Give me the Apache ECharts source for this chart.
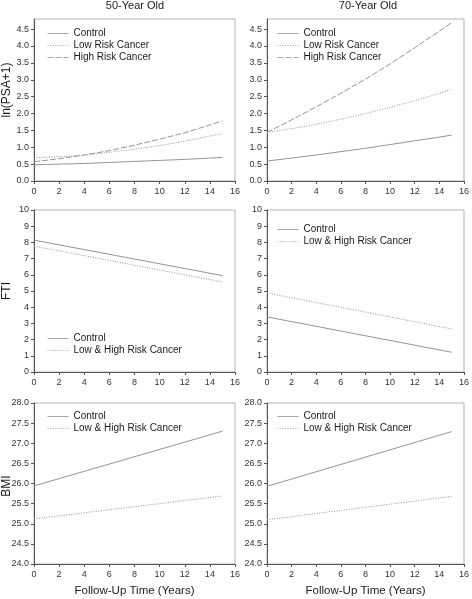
<!DOCTYPE html>
<html>
<head>
<meta charset="utf-8">
<script src="https://cdn.jsdelivr.net/npm/echarts@6/dist/echarts.min.js"></script>
<style>
html,body{margin:0;padding:0;background:#fff;}
#c{width:472px;height:599px;}
</style>
</head>
<body>
<div id="c"></div>
<script>
// ---- data ----
var yearsCurve = [0, 2, 4, 6, 8, 10, 12, 14, 15];
var yearsLine = [0, 15];

// ln(PSA+1), 50-year old
var psa50Control = [0.48, 0.50, 0.52, 0.55, 0.58, 0.61, 0.64, 0.68, 0.70];
var psa50Low     = [0.69, 0.72, 0.77, 0.85, 0.94, 1.05, 1.18, 1.33, 1.41];
var psa50High    = [0.57, 0.66, 0.77, 0.90, 1.06, 1.24, 1.43, 1.66, 1.78];
// ln(PSA+1), 70-year old
var psa70Control = [0.59, 0.68, 0.77, 0.87, 0.97, 1.08, 1.19, 1.30, 1.36];
var psa70Low     = [1.44, 1.55, 1.68, 1.83, 2.00, 2.18, 2.38, 2.60, 2.72];
var psa70High    = [1.44, 1.81, 2.20, 2.60, 3.02, 3.47, 3.95, 4.44, 4.69];
// FTI
var fti50Control = [8.14, 5.95];
var fti50Cancer  = [7.77, 5.56];
var fti70Control = [3.40, 1.22];
var fti70Cancer  = [4.88, 2.66];
// BMI
var bmi50Control = [25.94, 27.30];
var bmi50Cancer  = [25.12, 25.69];
var bmi70Control = [25.93, 27.29];
var bmi70Cancer  = [25.10, 25.68];

var xTicks = [0, 2, 4, 6, 8, 10, 12, 14, 16];
var psaTicks = [0, 0.5, 1, 1.5, 2, 2.5, 3, 3.5, 4, 4.5];
var ftiTicks = [0, 1, 2, 3, 4, 5, 6, 7, 8, 9, 10];
var bmiTicks = [24, 24.5, 25, 25.5, 26, 26.5, 27, 27.5, 28];

var titles = ['50-Year Old', '70-Year Old'];
var yNames = ['ln(PSA+1)', 'FTI', 'BMI'];
var xName = 'Follow-Up Time (Years)';

// ---- layout ----
var FONT = 'Liberation Sans, Arial, sans-serif';
var LINE = '#959595';
var cols = [{left: 34, width: 201}, {left: 267, width: 200}];
var rows = [{top: 19, height: 162}, {top: 210, height: 162}, {top: 403, height: 161}];

function pairs(xs, ys) { return xs.map(function (x, i) { return [x, ys[i]]; }); }

var grids = [], xAxes = [], yAxes = [], series = [], legends = [];
var yCfg = [
  {min: 0, max: 4.8, ticks: psaTicks, fmt: function (v) { return v.toFixed(1); }},
  {min: 0, max: 10, ticks: ftiTicks, fmt: function (v) { return String(v); }},
  {min: 24, max: 28, ticks: bmiTicks, fmt: function (v) { return v.toFixed(1); }}
];

var idx = 0;
for (var r = 0; r < 3; r++) {
  for (var c = 0; c < 2; c++) {
    grids.push({
      left: cols[c].left, width: cols[c].width, top: rows[r].top, height: rows[r].height,
      show: true, borderColor: '#b4b4b4', borderWidth: 1, backgroundColor: 'transparent', containLabel: false
    });
    xAxes.push({
      type: 'value', gridIndex: idx, min: 0, max: 16, interval: 2,
      name: r === 2 ? xName : '', nameLocation: 'middle', nameGap: 21,
      nameTextStyle: {fontFamily: FONT, fontSize: 11.5, color: '#1a1a1a'},
      axisLine: {show: true, lineStyle: {color: '#555', width: 1}},
      axisTick: {show: true, length: 3, inside: false, customValues: xTicks, lineStyle: {color: '#555'}},
      axisLabel: {fontFamily: FONT, fontSize: 9, color: '#333', margin: 6, customValues: xTicks},
      splitLine: {show: false}
    });
    var yc = yCfg[r];
    yAxes.push({
      type: 'value', gridIndex: idx, min: yc.min, max: yc.max,
      axisLine: {show: true, lineStyle: {color: '#555', width: 1}},
      axisTick: {show: true, length: 3, inside: false, customValues: yc.ticks, lineStyle: {color: '#555'}},
      axisLabel: {fontFamily: FONT, fontSize: 9, color: '#333', margin: 5, customValues: yc.ticks, formatter: yc.fmt},
      splitLine: {show: false}
    });
    idx++;
  }
}

function addLine(gi, name, data, type) {
  series.push({
    type: 'line', name: name, xAxisIndex: gi, yAxisIndex: gi, data: data,
    showSymbol: false, symbol: 'none', smooth: false, silent: true, animation: false,
    lineStyle: {color: LINE, width: 1, type: type}, itemStyle: {color: LINE}
  });
}
var dashType = [6, 2];
var dotType = [1, 1.5];

addLine(0, 'Control', pairs(yearsCurve, psa50Control), 'solid');
addLine(0, 'Low Risk Cancer', pairs(yearsCurve, psa50Low), dotType);
addLine(0, 'High Risk Cancer', pairs(yearsCurve, psa50High), dashType);
addLine(1, 'Control', pairs(yearsCurve, psa70Control), 'solid');
addLine(1, 'Low Risk Cancer', pairs(yearsCurve, psa70Low), dotType);
addLine(1, 'High Risk Cancer', pairs(yearsCurve, psa70High), dashType);
addLine(2, 'Control', pairs(yearsLine, fti50Control), 'solid');
addLine(2, 'Low & High Risk Cancer', pairs(yearsLine, fti50Cancer), dotType);
addLine(3, 'Control', pairs(yearsLine, fti70Control), 'solid');
addLine(3, 'Low & High Risk Cancer', pairs(yearsLine, fti70Cancer), dotType);
addLine(4, 'Control', pairs(yearsLine, bmi50Control), 'solid');
addLine(4, 'Low & High Risk Cancer', pairs(yearsLine, bmi50Cancer), dotType);
addLine(5, 'Control', pairs(yearsLine, bmi70Control), 'solid');
addLine(5, 'Low & High Risk Cancer', pairs(yearsLine, bmi70Cancer), dotType);

function addLegend(left, top, names) {
  legends.push({
    left: left, top: top, orient: 'vertical', itemWidth: 21, itemHeight: 10, itemGap: 2,
    selectedMode: false, data: names, padding: 0,
    itemStyle: {opacity: 0, borderWidth: 0},
    lineStyle: {width: 1, color: '#a8a8a8'},
    textStyle: {fontFamily: FONT, fontSize: 10, color: '#1a1a1a', padding: [0, 0, 0, 0]}
  });
}
var psaNames = ['Control', 'Low Risk Cancer', 'High Risk Cancer'];
var twoNames = ['Control', 'Low & High Risk Cancer'];
addLegend(47, 28.5, psaNames);
addLegend(277, 28.5, psaNames);
addLegend(47, 333.5, twoNames);
addLegend(277, 224.5, twoNames);
addLegend(47, 411.5, twoNames);
addLegend(277, 411.5, twoNames);

var graphics = [];
var yNameY = [90, 291, 486];
for (var k = 0; k < 3; k++) {
  graphics.push({
    type: 'text', x: 7, y: yNameY[k], rotation: Math.PI / 2,
    style: {text: yNames[k], fontFamily: FONT, fontSize: 12, fill: '#1a1a1a', align: 'center', verticalAlign: 'middle'}
  });
}

var chart = echarts.init(document.getElementById('c'), null, {renderer: 'canvas'});
chart.setOption({
  animation: false,
  backgroundColor: '#fff',
  title: [
    {text: titles[0], left: 135, top: 0, textAlign: 'center', padding: 0,
     textStyle: {fontFamily: FONT, fontSize: 11, fontWeight: 'normal', color: '#1a1a1a'}},
    {text: titles[1], left: 368, top: 0, textAlign: 'center', padding: 0,
     textStyle: {fontFamily: FONT, fontSize: 11, fontWeight: 'normal', color: '#1a1a1a'}}
  ],
  grid: grids, xAxis: xAxes, yAxis: yAxes, series: series, legend: legends, graphic: graphics
});
</script>
</body>
</html>
